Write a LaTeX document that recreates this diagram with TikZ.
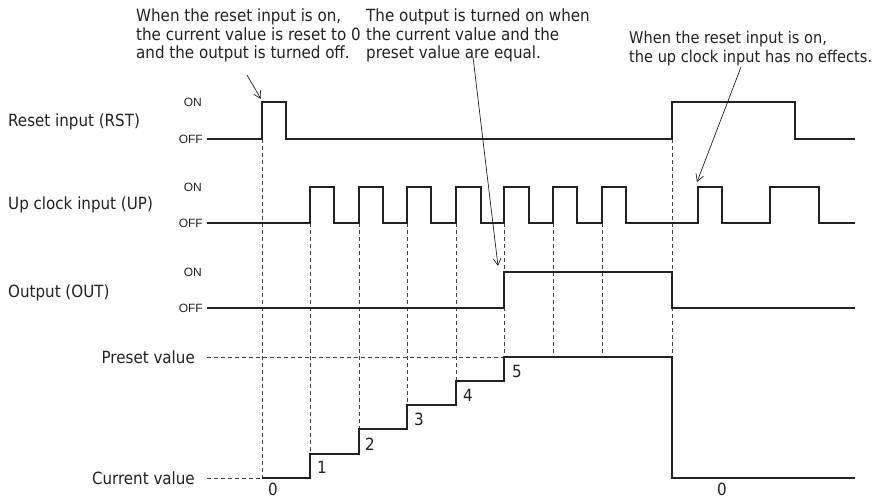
\documentclass[tikz,border=0pt]{standalone}
\usepackage{fontspec}
\usetikzlibrary{arrows.meta}
\newfontfamily\labfont{DejaVu Sans Condensed}
\newfontfamily\onofffont{Liberation Sans}
\definecolor{ink}{HTML}{222222}
\definecolor{dash}{HTML}{444444}
\tikzset{
  sig/.style={line width=1.8pt, draw=ink, line join=miter},
  guide/.style={line width=0.8pt, draw=dash, dash pattern=on 4pt off 3pt},
  note/.style={font=\labfont\fontsize{16.8}{18.5}\selectfont, text=ink, inner sep=0pt, align=left, anchor=north west},
  rowlab/.style={font=\labfont\fontsize{16.8}{19}\selectfont, text=ink, inner sep=0pt},
  lvl/.style={font=\onofffont\fontsize{12}{14}\selectfont, text=ink, inner sep=0pt, anchor=east},
  num/.style={font=\labfont\fontsize{16.8}{19}\selectfont, text=ink, inner sep=0pt},
  callout/.style={line width=0.7pt, draw=ink, -{Straight Barb[length=7pt,width=8pt]}}
}
\begin{document}
\begin{tikzpicture}[x=1pt,y=-1pt]
\useasboundingbox (0,0) rectangle (878,498);
% annotations
\node[note] (t1) at (136,9) {When the reset input is on,\\the current value is reset to 0\\and the output is turned off.};
\node[note] (t2) at (366,9) {The output is turned on when\\the current value and the\\preset value are equal.};
\node[note, font=\labfont\fontsize{16.2}{18.5}\selectfont] (t3) at (629,31) {When the reset input is on,\\the up clock input has no effects.};
% row labels
\node[rowlab, anchor=west] (rst) at (8,122) {Reset input (RST)};
\node[rowlab, anchor=west] (up) at (8,205) {Up clock input (UP)};
\node[rowlab, anchor=west] (out) at (8,293) {Output (OUT)};
\node[rowlab, anchor=east] (pre) at (195,357) {Preset value};
\node[rowlab, anchor=east] (cur) at (195,478) {Current value};
% level labels
\node[lvl] (on1) at (202,102) {ON};
\node[lvl] (off1) at (203,139) {OFF};
\node[lvl] (on2) at (202,187) {ON};
\node[lvl] (off2) at (203,223) {OFF};
\node[lvl] (on3) at (202,272) {ON};
\node[lvl] (off3) at (203,308) {OFF};
% guides
\draw[guide] (207,357) -- (504,357);
\draw[guide] (207,478) -- (262,478);
\draw[guide] (262,139) -- (262,478);
\draw[guide] (310,223) -- (310,454);
\draw[guide] (359,223) -- (359,429);
\draw[guide] (407,223) -- (407,405);
\draw[guide] (456,223) -- (456,381);
\draw[guide] (504,223) -- (504,357);
\draw[guide] (553,223) -- (553,357);
\draw[guide] (602,223) -- (602,357);
\draw[guide] (672,139) -- (672,357);
% signals
\draw[sig] (207,139) -- (262,139) -- (262,102) -- (286,102) -- (286,139) -- (672,139) -- (672,102) -- (795,102) -- (795,139) -- (855,139);
\draw[sig] (207,223) -- (310,223) -- (310,187) -- (334,187) -- (334,223) -- (359,223) -- (359,187) -- (383,187) -- (383,223) -- (407,223) -- (407,187) -- (431,187) -- (431,223) -- (456,223) -- (456,187) -- (481,187) -- (481,223) -- (504,223) -- (504,187) -- (529,187) -- (529,223) -- (553,223) -- (553,187) -- (577,187) -- (577,223) -- (602,223) -- (602,187) -- (626,187) -- (626,223) -- (698,223) -- (698,187) -- (722,187) -- (722,223) -- (770,223) -- (770,187) -- (819,187) -- (819,223) -- (855,223);
\draw[sig] (207,308) -- (504,308) -- (504,272) -- (672,272) -- (672,308) -- (855,308);
\draw[sig] (262,478) -- (310,478) -- (310,454) -- (359,454) -- (359,429) -- (407,429) -- (407,405) -- (456,405) -- (456,381) -- (504,381) -- (504,357) -- (672,357) -- (672,478) -- (855,478);
% numbers
\node[num] (n0a) at (273,489.5) {0};
\node[num] (n1) at (322,467) {1};
\node[num] (n2) at (370,444) {2};
\node[num] (n3) at (419,419) {3};
\node[num] (n4) at (468,395) {4};
\node[num] (n5) at (517,371) {5};
\node[num] (n0b) at (722,489.5) {0};
% callouts
\coordinate (a1s) at (247,75);
\coordinate (a1e) at (261,99);
\coordinate (a2s) at (473,57);
\coordinate (a2e) at (498,266);
\coordinate (a3s) at (741,67);
\coordinate (a3e) at (697,182);
\draw[callout] (a1s) -- (a1e);
\draw[callout] (a2s) -- (a2e);
\draw[callout] (a3s) -- (a3e);
\end{tikzpicture}
\end{document}
